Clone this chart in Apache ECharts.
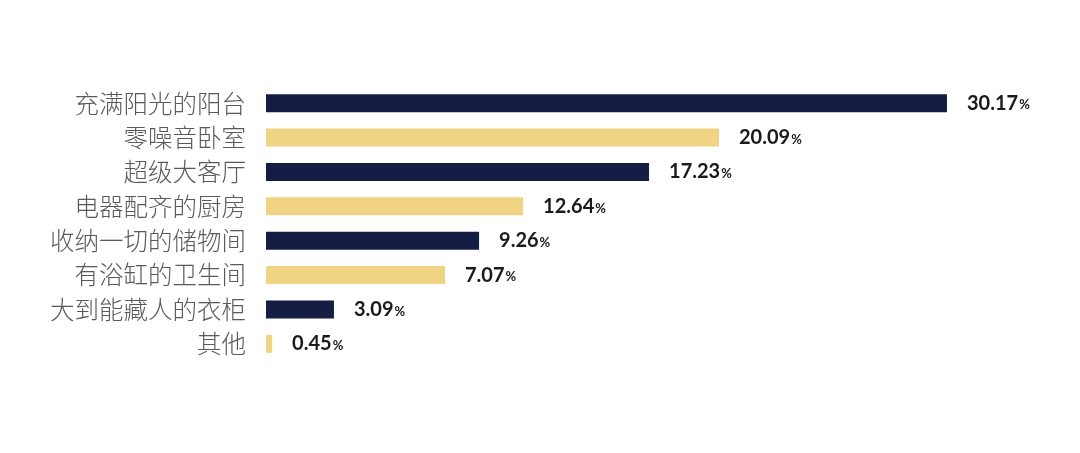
<!DOCTYPE html>
<html><head><meta charset="utf-8">
<script src="https://cdn.jsdelivr.net/npm/echarts@6/dist/echarts.min.js"></script>
<style>html,body{margin:0;padding:0;background:#fff}#c{width:1080px;height:453px}</style>
</head><body><div id="c"></div>
<script>
const categories = ['充满阳光的阳台','零噪音卧室','超级大客厅','电器配齐的厨房','收纳一切的储物间','有浴缸的卫生间','大到能藏人的衣柜','其他'];
// bar lengths as drawn in the picture
const barLengths = [30.17, 20.07, 16.97, 11.39, 9.44, 7.93, 3.01, 0.27];
// value labels as printed
const labelValues = ['30.17', '20.09', '17.23', '12.64', '9.26', '7.07', '3.09', '0.45'];
const colors = ['#151d45', '#f0d383'];

const chart = echarts.init(document.getElementById('c'));
chart.setOption({
  backgroundColor: '#fff',
  animation: false,
  grid: { left: 266, right: 24, top: 86, bottom: 92 },
  xAxis: { type: 'value', min: 0, max: 35, show: false },
  yAxis: {
    type: 'category', inverse: true, data: categories,
    axisLine: { show: false }, axisTick: { show: false },
    axisLabel: { margin: 20, color: '#5a5a5a', fontSize: 24.5, fontFamily: 'Noto Sans CJK SC', fontWeight: 300 }
  },
  series: [{
    type: 'bar', barWidth: 18,
    data: barLengths.map((v, i) => ({ value: v, itemStyle: { color: colors[i % 2] } })),
    label: {
      show: true, position: 'right', distance: 20,
      formatter: p => '{n|' + labelValues[p.dataIndex] + '}{p|%}',
      rich: {
        n: { fontSize: 20, fontWeight: 'bold', color: '#1a1a1a', fontFamily: 'Lato' },
        p: { fontSize: 13, fontWeight: 'bold', color: '#1a1a1a', fontFamily: 'Lato', padding: [4, 0, 0, 1] }
      }
    }
  }]
});
</script></body></html>
